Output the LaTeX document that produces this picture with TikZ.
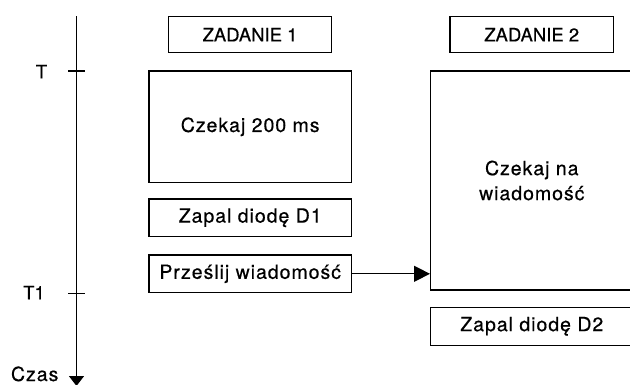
\documentclass[tikz,border=0pt]{standalone}
\usepackage{fontspec}
\setmainfont{TeX Gyre Heros}[FakeBold=0.5]
\newfontfamily\spacedfont{TeX Gyre Heros}[LetterSpace=5,FakeBold=0.5]
\usetikzlibrary{arrows.meta}
\begin{document}
\begin{tikzpicture}[x=1pt,y=-1pt,
  line width=1.3pt,
  txt/.style={font=\fontsize{18.5}{25}\selectfont, inner sep=0pt},
  stxt/.style={font=\spacedfont\fontsize{19.5}{25}\selectfont, inner sep=0pt},
  taskbox/.style={stxt, draw, align=center, minimum width=202.3pt},
  head/.style={txt, draw, minimum width=163.5pt, minimum height=36pt},
  tick/.style={line width=1.1pt}]
\clip (0,0) rectangle (630,384);
\useasboundingbox (0,0) rectangle (630,384);

% time axis
\coordinate (axtop) at (76.5,16);
\coordinate (axbot) at (76.5,386);
\draw[-{Triangle[length=10pt,width=15pt]}] (axtop) -- (axbot);
\node[stxt, anchor=base] (czas) at (34.7,381) {Czas};

% time marks
\coordinate (tA) at (68.3,71);
\coordinate (tB) at (85,71);
\coordinate (t1A) at (68.3,293.7);
\coordinate (t1B) at (85,293.7);
\draw[tick] (tA) -- (tB);
\draw[tick] (t1A) -- (t1B);
\node[txt, anchor=base] (lt) at (41.5,78.3) {T};
\node[txt, anchor=base] (lt1) at (34,299.3) {T1};

% task headers
\node[head] (zad1) at (250,34.7) {ZADANIE 1};
\node[head] (zad2) at (531.7,34.7) {ZADANIE 2};

% task 1
\node[taskbox, minimum height=111.7pt] (wait200) at (250.2,126.8) {Czekaj 200 ms};
\node[taskbox, minimum height=37.3pt] (led1) at (250.2,217.7) {Zapal diodę D1};
\node[taskbox, minimum height=37.7pt] (send) at (250.2,273.8) {Prześlij wiadomość};

% task 2
\node[taskbox, minimum height=219pt] (waitmsg) at (531.8,180.5) {Czekaj na\\wiadomość};
\node[taskbox, minimum height=38pt] (led2) at (531.8,326.3) {Zapal diodę D2};

% message
\draw[-{Triangle[length=16pt,width=16pt]}] (send.east) -- (send.east -| waitmsg.west);
\end{tikzpicture}
\end{document}
